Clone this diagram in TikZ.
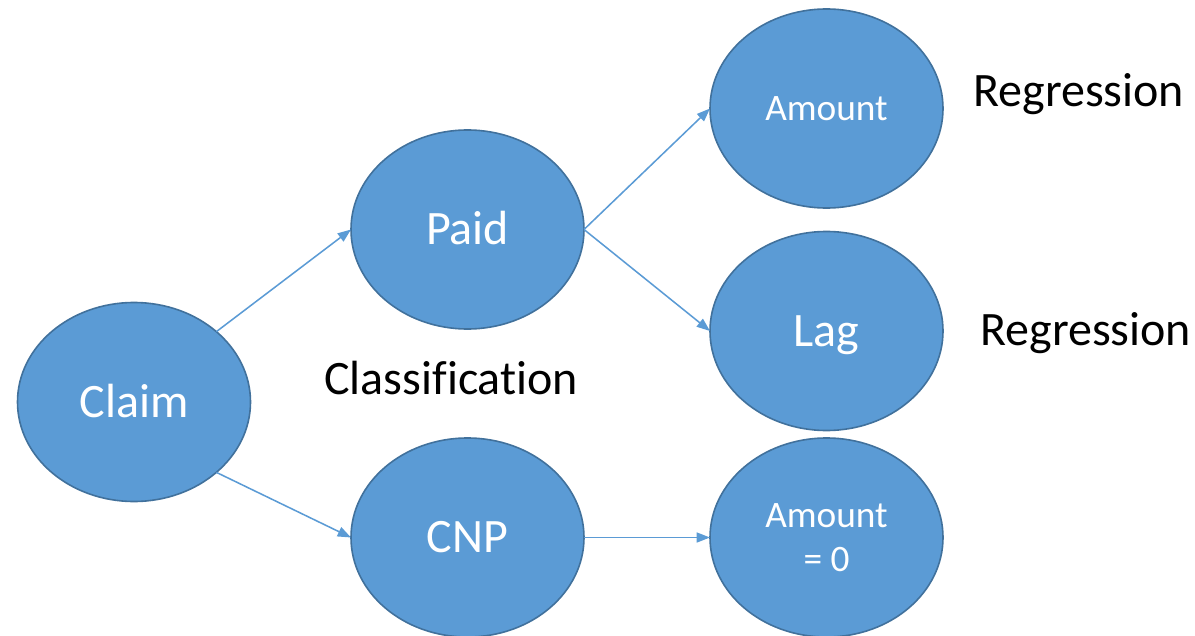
\documentclass[tikz,border=0pt]{standalone}
\usepackage{fontspec}
\setmainfont{Carlito}[Ligatures=CommonOff]
\usetikzlibrary{shapes.geometric,arrows.meta}
\definecolor{accfill}{HTML}{5B9BD5}
\definecolor{accline}{HTML}{41719C}
\begin{document}
\begin{tikzpicture}[x=0.75pt,y=-0.75pt,
  blob/.style={ellipse, draw=accline, fill=accfill, line width=1.2pt,
    minimum width=174.75pt, minimum height=149.25pt, inner sep=0pt, outer sep=0pt,
    text=white, align=center},
  bigtxt/.style={font=\fontsize{36}{43}\selectfont, text height=23.2pt, text depth=0pt},
  smalltxt/.style={font=\fontsize{28}{33}\selectfont, text height=18pt, text depth=0pt},
  twoline/.style={font=\fontsize{28}{33}\selectfont, text height=51pt, text depth=0pt},
  conn/.style={draw=accfill, line width=1.15pt, -{Triangle[length=10pt,width=7.5pt]}},
  lbl/.style={font=\fontsize{36}{43}\selectfont, anchor=base west, inner sep=0pt, text=black}
]
\useasboundingbox (0,0) rectangle (1195,635);
\node[blob,bigtxt] (claim) at (134,402) {Claim};
\node[blob,bigtxt] (paid) at (467.5,229.5) {Paid};
\node[blob,bigtxt] (cnp) at (467.5,537.5) {CNP};
\node[blob,smalltxt] (amount) at (826.5,108.5) {Amount};
\node[blob,bigtxt] (lag) at (826.5,331) {Lag};
\node[blob,twoline] (amtzero) at (826.5,537.5) {Amount\\= 0};
\node[lbl] (reg1) at (973,107) {Regression};
\node[lbl] (reg2) at (980,345) {Regression};
\node[lbl] (cls) at (324,394) {Classification};
\draw[conn] (claim.north east) -- (paid.west);
\draw[conn] (claim.south east) -- (cnp.west);
\draw[conn] (paid.east) -- (amount.west);
\draw[conn] (paid.east) -- (lag.west);
\draw[conn] (cnp.east) -- (amtzero.west);
\end{tikzpicture}
\end{document}
